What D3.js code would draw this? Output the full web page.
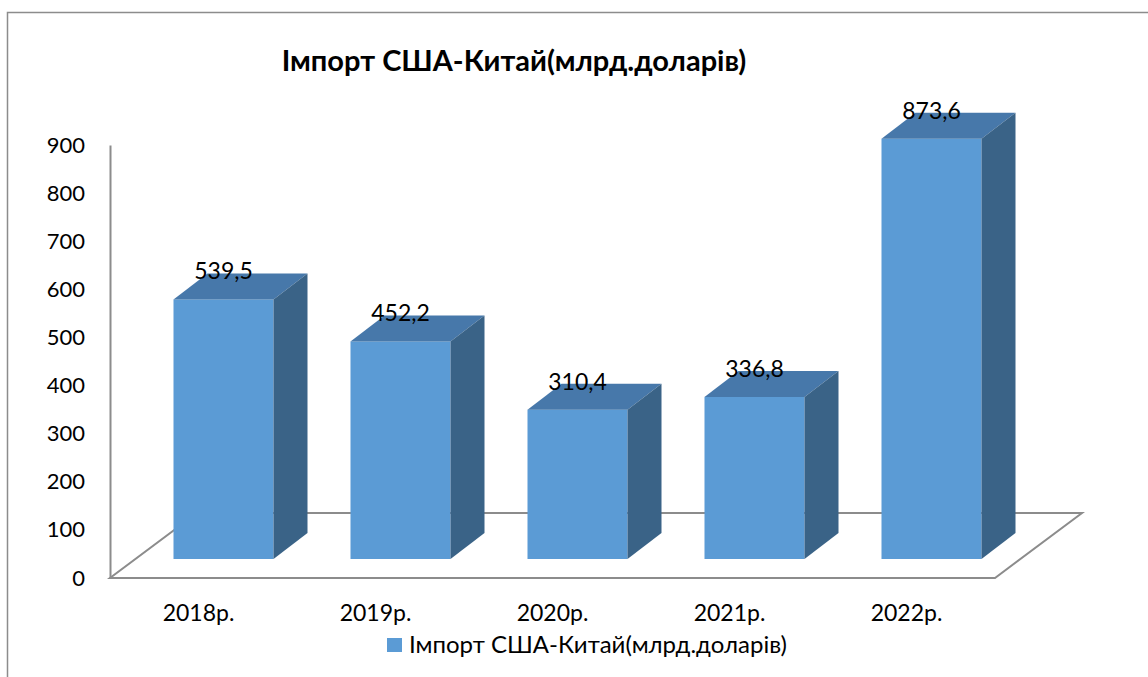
<!DOCTYPE html>
<html>
<head>
<meta charset="utf-8">
<script src="https://cdn.jsdelivr.net/npm/d3@7"></script>
<style>
  body { margin: 0; background: #fff; }
  text { font-family: Lato, "Open Sans", sans-serif; fill: #000; }
</style>
</head>
<body>
<div id="chart"></div>
<script>
const years = ["2018р.", "2019р.", "2020р.", "2021р.", "2022р."];
const imports = [539.5, 452.2, 310.4, 336.8, 873.6];
const labels = ["539,5", "452,2", "310,4", "336,8", "873,6"];
const yTicks = [0, 100, 200, 300, 400, 500, 600, 700, 800, 900];
const seriesName = "Імпорт США-Китай(млрд.доларів)";

let width = 1148,
  height = 677;

let svg = d3.select("#chart")
  .append("svg")
  .attr("width", width)
  .attr("height", height);

// outer frame (left and top only visible)
svg.append("path")
  .attr("d", `M7.5,${height} V12.5 H${width}`)
  .attr("fill", "none")
  .attr("stroke", "#8c8c8c")
  .attr("stroke-width", 1.5);

// floor plane geometry (front edge -> back edge)
const floorDx = 87, floorDy = -65;
// bars sit part way into the floor
const barShiftX = 25, barShiftY = -19;
const depthX = 34, depthY = -26;

let y = d3.scaleLinear()
  .domain([0, 900])
  .range([578, 145]);

let x = d3.scaleBand()
  .domain(years)
  .range([110 + barShiftX, 995 + barShiftX])
  .paddingInner(0.435)
  .paddingOuter(0.2175);

// floor
svg.append("path")
  .attr("d", `M110,${y(0)} H995 l${floorDx},${floorDy} H${110 + floorDx} Z`)
  .attr("fill", "none")
  .attr("stroke", "#8c8c8c")
  .attr("stroke-width", 2);

// y axis
let yAxis = svg.append("g")
  .attr("transform", "translate(110,0)")
  .call(d3.axisLeft(y).tickValues(yTicks).tickSize(0).tickSizeOuter(0).tickPadding(25));
yAxis.select(".domain")
  .attr("stroke", "#8c8c8c")
  .attr("stroke-width", 2);
yAxis.selectAll("text")
  .style("font-size", "22px")
  .style("font-family", "Lato, sans-serif");

// bars
let barY = v => y(v) + barShiftY;
let bars = svg.append("g").selectAll("g")
  .data(years.map((d, i) => ({ year: d, value: imports[i], label: labels[i] })))
  .join("g");

bars.append("rect")
  .attr("x", d => x(d.year))
  .attr("y", d => barY(d.value))
  .attr("width", x.bandwidth())
  .attr("height", d => barY(0) - barY(d.value))
  .attr("fill", "#5b9bd5");

bars.append("path")
  .attr("d", d => {
    let x0 = x(d.year), x1 = x0 + x.bandwidth(), t = barY(d.value);
    return `M${x0},${t} L${x1},${t} l${depthX},${depthY} L${x0 + depthX},${t + depthY} Z`;
  })
  .attr("fill", "#4778aa");

bars.append("path")
  .attr("d", d => {
    let x1 = x(d.year) + x.bandwidth(), t = barY(d.value), b = barY(0);
    return `M${x1},${t} l${depthX},${depthY} L${x1 + depthX},${b + depthY} L${x1},${b} Z`;
  })
  .attr("fill", "#3a6387");

bars.append("text")
  .attr("x", d => x(d.year) + x.bandwidth() / 2)
  .attr("y", d => barY(d.value) + depthY + 6)
  .attr("text-anchor", "middle")
  .style("font-size", "23px")
  .text(d => d.label);

// category labels along the front edge
svg.append("g").selectAll("text")
  .data(years)
  .join("text")
  .attr("x", d => x(d) + x.bandwidth() / 2 - barShiftX)
  .attr("y", 621)
  .attr("text-anchor", "middle")
  .style("font-size", "23px")
  .text(d => d);

// title
svg.append("text")
  .attr("x", 514)
  .attr("y", 71)
  .attr("text-anchor", "middle")
  .style("font-size", "29px")
  .style("font-weight", "bold")
  .text(seriesName);

// legend
let legend = svg.append("g").attr("transform", "translate(387,638)");
legend.append("rect")
  .attr("width", 15)
  .attr("height", 14)
  .attr("fill", "#5b9bd5");
legend.append("text")
  .attr("x", 22)
  .attr("y", 15)
  .style("font-size", "24px")
  .text(seriesName);
</script>
</body>
</html>
